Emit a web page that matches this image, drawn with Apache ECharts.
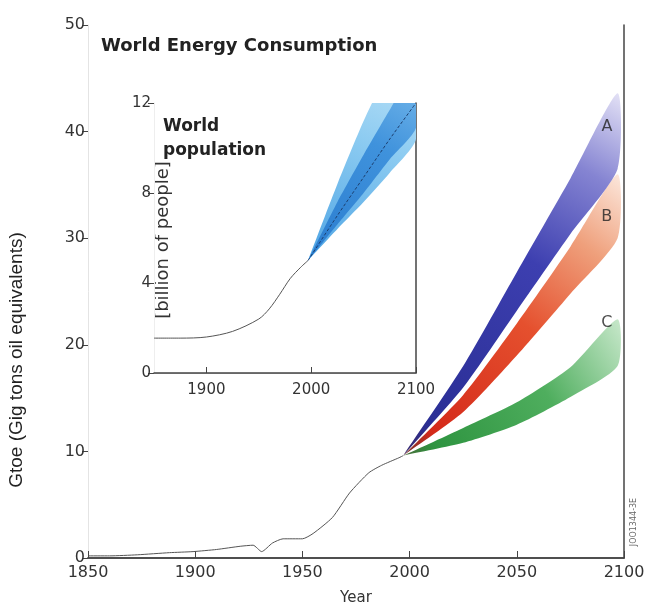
<!DOCTYPE html>
<html>
<head>
<meta charset="utf-8">
<script src="https://cdn.jsdelivr.net/npm/echarts@6/dist/echarts.min.js"></script>
<style>
  html, body { margin: 0; padding: 0; background: #ffffff; }
  #chart { width: 661px; height: 605px; }
</style>
</head>
<body>
<div id="chart"></div>
<script>
// ---------- data ----------
const energyYears  = [1850, 1860, 1873, 1888, 1899, 1910, 1921, 1927, 1931, 1936, 1941, 1950, 1955, 1964, 1972, 1981, 1987, 1995, 1997];
const energyValues = [0.2, 0.2, 0.3, 0.5, 0.6, 0.8, 1.1, 1.2, 0.6, 1.4, 1.8, 1.8, 2.3, 3.8, 6.1, 8.0, 8.7, 9.4, 9.6];

const scenarioYears = [1997, 2025, 2050, 2075, 2097];
const scenarioALow  = [9.6, 16.0, 23.2, 30.4, 36.5];
const scenarioAHigh = [9.6, 18.0, 26.8, 35.6, 43.6];
const scenarioBLow  = [9.6, 13.7, 19.0, 24.8, 30.0];
const scenarioBHigh = [9.6, 15.3, 22.0, 29.2, 36.0];
const scenarioCLow  = [9.6, 10.8, 12.5, 15.1, 18.0];
const scenarioCHigh = [9.6, 12.2, 14.6, 17.9, 22.4];

const scenarioNames       = ['A', 'B', 'C'];
const scenarioLabelYears  = [2092, 2092, 2092];
const scenarioLabelValues = [40.4, 32.0, 22.1];

const popYears  = [1850, 1875, 1900, 1925, 1950, 1960, 1970, 1980, 1990, 1997];
const popValues = [1.55, 1.55, 1.6, 1.85, 2.4, 2.85, 3.5, 4.2, 4.7, 5.0];

const popProjYears = [1997, 2025, 2050, 2075, 2100];
const popCenter    = [5.0, 7.0, 8.7, 10.4, 12.0];
const popOuterLow  = [5.0, 6.4, 7.6, 8.9, 10.4];
const popOuterHigh = [5.0, 8.4, 11.2, 13.6, 15.6];
const popInnerLow  = [5.0, 6.6, 8.0, 9.5, 10.9];
const popInnerHigh = [5.0, 7.6, 9.7, 11.7, 13.6];

const mainXTicks  = [1850, 1900, 1950, 2000, 2050, 2100];
const insetXTicks = [1900, 2000, 2100];

// ---------- helpers ----------
const zip = (xs, ys) => xs.map((x, i) => [x, ys[i]]);
const G = (stops) => new echarts.graphic.LinearGradient(0, 1, 1, 0,
  stops.map(s => ({ offset: s[0], color: s[1] })));

const FONT = 'DejaVu Sans';
const axisColor = '#444';

// a band drawn as one polygon through the axes' own scales
function band(name, xs, lo, hi, xi, yi, fill, z) {
  return {
    name: name, type: 'custom', xAxisIndex: xi, yAxisIndex: yi,
    data: xs.map((x, i) => [x, lo[i], hi[i]]),
    encode: { x: 0, y: [1, 2] },
    clip: true, silent: true, z: z,
    renderItem: function (params, api) {
      if (params.dataIndexInside !== 0) return null;
      const n = params.dataInsideLength;
      const up = [], dn = [];
      for (let i = 0; i < n; i++) {
        up.push(api.coord([api.value(0, i), api.value(2, i)]));
        dn.push(api.coord([api.value(0, i), api.value(1, i)]));
      }
      return {
        type: 'polygon',
        shape: { points: up.concat(dn.reverse()), smooth: 0.22 },
        style: { fill: fill }
      };
    }
  };
}

const chart = echarts.init(document.getElementById('chart'), null, { renderer: 'canvas' });

const option = {
  backgroundColor: '#ffffff',
  animation: false,
  title: [
    { text: 'World Energy Consumption', left: 101, top: 37, padding: 0,
      textStyle: { fontFamily: FONT, fontWeight: 'bold', fontSize: 18, color: '#222' } },
    { text: 'World\npopulation', left: 163, top: 115, padding: 0,
      textStyle: { fontFamily: FONT, fontWeight: 'bold', fontSize: 17, lineHeight: 24, color: '#222' } }
  ],
  grid: [
    { left: 88, right: 37, top: 25, bottom: 47, outerBoundsMode: 'none', containLabel: false },
    { left: 154, right: 245, top: 103, bottom: 232, outerBoundsMode: 'none', containLabel: false }
  ],
  xAxis: [
    { gridIndex: 0, type: 'value', position: 'bottom', min: 1850, max: 2100, interval: 50,
      axisLine: { lineStyle: { color: axisColor, width: 1.5 } },
      axisTick: { inside: true, length: 7, lineStyle: { color: axisColor } },
      axisLabel: { fontFamily: FONT, fontSize: 16, color: '#333', margin: 7,
        customValues: mainXTicks, formatter: v => String(v) },
      splitLine: { show: false },
      name: 'Year', nameLocation: 'middle', nameGap: 33, nameMoveOverlap: false,
      nameTextStyle: { fontFamily: FONT, fontSize: 15, color: '#333' } },
    { gridIndex: 0, type: 'value', position: 'top', min: 1850, max: 2100,
      axisLine: { lineStyle: { color: axisColor, width: 1.5 } },
      axisTick: { show: false }, axisLabel: { show: false }, splitLine: { show: false } },
    { gridIndex: 1, type: 'value', position: 'bottom', min: 1850, max: 2100, interval: 50,
      axisLine: { lineStyle: { color: '#cccccc', width: 1 } },
      axisTick: { inside: true, length: 6, customValues: insetXTicks, lineStyle: { color: axisColor } },
      axisLabel: { fontFamily: FONT, fontSize: 15, color: '#333', margin: 10,
        customValues: insetXTicks, formatter: v => String(v) },
      splitLine: { show: false } },
    { gridIndex: 1, type: 'value', position: 'top', min: 1850, max: 2100,
      axisLine: { lineStyle: { color: axisColor, width: 1.5 } },
      axisTick: { show: false }, axisLabel: { show: false }, splitLine: { show: false } }
  ],
  yAxis: [
    { gridIndex: 0, type: 'value', position: 'left', min: 0, max: 50, interval: 10,
      axisLine: { show: true, lineStyle: { color: '#e4e4e4', width: 1 } },
      axisTick: { show: true, inside: false, length: 6, lineStyle: { color: axisColor } },
      axisLabel: { fontFamily: FONT, fontSize: 16, color: '#333', margin: 3 },
      splitLine: { show: false } },
    { gridIndex: 0, type: 'value', position: 'right', min: 0, max: 50,
      axisLine: { show: true, lineStyle: { color: axisColor, width: 1.5 } },
      axisTick: { show: false }, axisLabel: { show: false }, splitLine: { show: false } },
    { gridIndex: 1, type: 'value', position: 'left', min: 0, max: 12, interval: 4,
      axisLine: { show: true, lineStyle: { color: '#eeeeee', width: 1 } },
      axisTick: { show: true, inside: false, length: 6, lineStyle: { color: axisColor } },
      axisLabel: { fontFamily: FONT, fontSize: 15, color: '#333', margin: 3 },
      splitLine: { show: false } },
    { gridIndex: 1, type: 'value', position: 'right', min: 0, max: 12,
      axisLine: { show: true, lineStyle: { color: axisColor, width: 1.5 } },
      axisTick: { show: false }, axisLabel: { show: false }, splitLine: { show: false } }
  ],
  graphic: [
    { type: 'text', x: 17, y: 360, rotation: Math.PI / 2,
      style: { text: 'Gtoe (Gig tons oil equivalents)', fontFamily: 'Liberation Sans', fontSize: 19,
        fill: '#222', align: 'center', verticalAlign: 'middle',
        textAlign: 'center', textVerticalAlign: 'middle' } },
    { type: 'text', x: 163, y: 240, rotation: Math.PI / 2,
      style: { text: '[billion of people]', fontFamily: FONT, fontSize: 18,
        fill: '#333', align: 'center', verticalAlign: 'middle',
        textAlign: 'center', textVerticalAlign: 'middle' } },
    { type: 'text', x: 634, y: 522, rotation: Math.PI / 2,
      style: { text: 'JOO1344-3E', fontFamily: FONT, fontSize: 8,
        fill: '#666', align: 'center', verticalAlign: 'middle',
        textAlign: 'center', textVerticalAlign: 'middle' } }
  ],
  series: [
    { name: 'history', type: 'line', xAxisIndex: 0, yAxisIndex: 0,
      data: zip(energyYears, energyValues), symbol: 'none', smooth: 0.2,
      lineStyle: { color: '#555', width: 1 }, z: 3 },
    band('C', scenarioYears, scenarioCLow, scenarioCHigh, 0, 0,
      G([[0, '#4a6a3a'], [0.12, '#2e9440'], [0.6, '#4fae5e'], [1, '#c8e8cb']]), 2),
    band('B', scenarioYears, scenarioBLow, scenarioBHigh, 0, 0,
      G([[0, '#6a3030'], [0.1, '#d42a1a'], [0.5, '#e5502e'], [0.78, '#efa07c'], [1, '#fce8dd']]), 2),
    band('A', scenarioYears, scenarioALow, scenarioAHigh, 0, 0,
      G([[0, '#3b2a6a'], [0.1, '#2a2e95'], [0.55, '#3d3fb0'], [0.8, '#8584d2'], [1, '#e4e2f6']]), 2),
    { name: 'labels', type: 'scatter', xAxisIndex: 0, yAxisIndex: 0,
      data: scenarioNames.map((n, i) => ({ value: [scenarioLabelYears[i], scenarioLabelValues[i]], name: n })),
      symbolSize: 1, itemStyle: { color: 'rgba(0,0,0,0)' },
      label: { show: true, position: 'inside', formatter: p => p.name,
        fontFamily: FONT, fontSize: 16, color: '#222' }, z: 5 },
    { name: 'pop', type: 'line', xAxisIndex: 2, yAxisIndex: 2,
      data: zip(popYears, popValues), symbol: 'none', smooth: 0.3,
      lineStyle: { color: '#555', width: 1 }, z: 3 },
    band('P1', popProjYears, popOuterLow, popOuterHigh, 2, 2,
      G([[0, '#4ea4e4'], [0.5, '#8ccbf1'], [1, '#d5eefb']]), 2),
    band('P2', popProjYears, popInnerLow, popInnerHigh, 2, 2,
      G([[0, '#2a7ccf'], [0.6, '#3f92dc'], [1, '#7bbcec']]), 2),
    { name: 'popCenter', type: 'line', xAxisIndex: 2, yAxisIndex: 2,
      data: zip(popProjYears, popCenter), symbol: 'none', smooth: 0.3,
      lineStyle: { color: '#1d3f6e', width: 1, type: [3, 2] }, z: 4 }
  ]
};

chart.setOption(option);
</script>
</body>
</html>
